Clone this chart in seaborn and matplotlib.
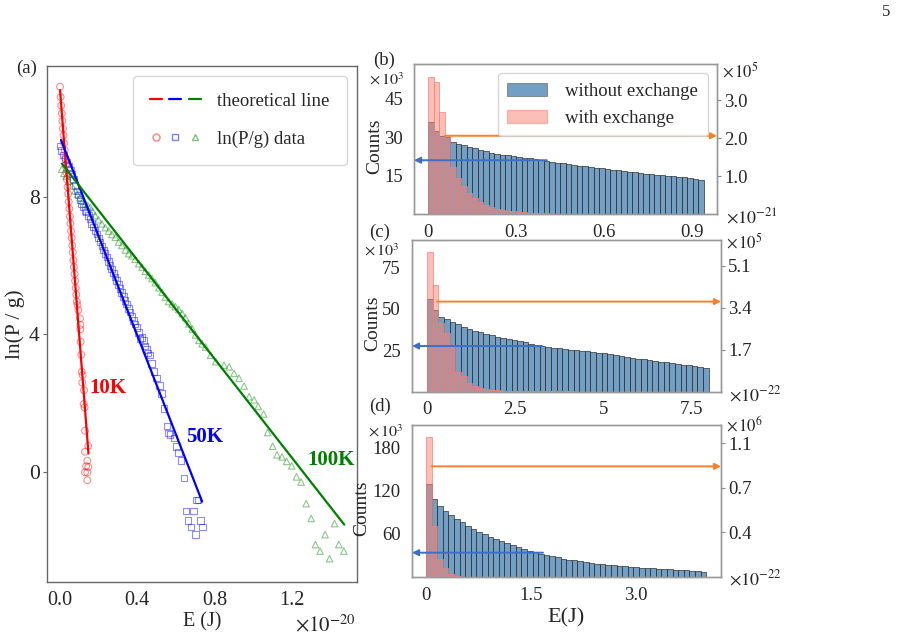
import numpy as np
import pandas as pd
import matplotlib
matplotlib.use("Agg")
import matplotlib.pyplot as plt
import seaborn as sns
from matplotlib.lines import Line2D
from matplotlib.patches import Patch
from matplotlib.legend_handler import HandlerTuple

# ---------------- data: panel (a) ----------------
red_E = [0.000, 0.003, 0.006, 0.009, 0.012, 0.015, 0.018, 0.021, 0.024, 0.027,
         0.030, 0.033, 0.036, 0.039, 0.042, 0.045, 0.048, 0.051, 0.054, 0.057,
         0.060, 0.063, 0.066, 0.069, 0.072, 0.075, 0.078, 0.081, 0.084, 0.087,
         0.090, 0.095, 0.103, 0.105, 0.105, 0.107, 0.110, 0.112, 0.117, 0.115,
         0.124, 0.122, 0.127, 0.129, 0.129, 0.146, 0.141, 0.135, 0.146, 0.129,
         0.141, 0.141]
red_ln = [11.20, 10.90, 10.65, 10.42, 10.20, 9.98, 9.78, 9.55, 9.35, 9.12,
          8.92, 8.70, 8.50, 8.28, 8.08, 7.85, 7.65, 7.42, 7.22, 7.00,
          6.80, 6.58, 6.38, 6.15, 5.95, 5.75, 5.55, 5.35, 5.15, 4.95,
          4.85, 4.70, 4.46, 4.27, 4.14, 3.78, 3.40, 2.91, 2.81, 2.59,
          2.37, 1.97, 1.87, 1.19, 0.58, 0.75, 0.32, 0.16, 0.14, -0.02,
          -0.02, -0.25]

blue_E = [0.000, 0.008, 0.017, 0.026, 0.035, 0.044, 0.053, 0.061, 0.070, 0.078,
          0.087, 0.095, 0.104, 0.112, 0.121, 0.130, 0.138, 0.147, 0.155, 0.164,
          0.173, 0.181, 0.190, 0.199, 0.207, 0.216, 0.225, 0.233, 0.242, 0.250,
          0.259, 0.267, 0.276, 0.284, 0.293, 0.302, 0.310, 0.319, 0.327, 0.336,
          0.345, 0.353, 0.362, 0.371, 0.379, 0.388, 0.397, 0.405, 0.414, 0.423,
          0.431, 0.440, 0.448, 0.456, 0.465, 0.474, 0.487, 0.500, 0.514, 0.526,
          0.537, 0.554, 0.562, 0.570, 0.589, 0.603, 0.613, 0.625, 0.641, 0.707,
          0.714, 0.651, 0.689, 0.661, 0.727, 0.677, 0.738, 0.700]
blue_ln = [9.48, 9.35, 9.21, 9.10, 9.00, 8.88, 8.78, 8.66, 8.50, 8.33,
           8.17, 8.05, 7.92, 7.79, 7.70, 7.60, 7.55, 7.45, 7.35, 7.22,
           7.12, 7.02, 6.92, 6.80, 6.68, 6.56, 6.45, 6.35, 6.24, 6.12,
           6.00, 5.90, 5.78, 5.67, 5.56, 5.44, 5.33, 5.22, 5.10, 4.98,
           4.88, 4.75, 4.64, 4.52, 4.40, 4.30, 4.20, 4.05, 3.87, 3.90,
           3.82, 3.65, 3.55, 3.45, 3.40, 3.15, 2.91, 2.72, 2.50, 2.28,
           1.84, 1.33, 1.12, 1.08, 0.98, 0.73, 0.56, 0.33, -0.18, -0.83,
           -0.83, -1.15, -1.15, -1.42, -1.42, -1.61, -1.61, -1.83]

green_E = [0.009, 0.020, 0.032, 0.045, 0.061, 0.078, 0.091, 0.104, 0.117, 0.130,
           0.143, 0.156, 0.169, 0.182, 0.199, 0.216, 0.234, 0.251, 0.268, 0.286,
           0.303, 0.320, 0.338, 0.355, 0.372, 0.389, 0.407, 0.424, 0.441, 0.459,
           0.476, 0.493, 0.511, 0.528, 0.545, 0.562, 0.580, 0.597, 0.614, 0.632,
           0.649, 0.666, 0.684, 0.701, 0.718, 0.735, 0.753, 0.779, 0.805, 0.848,
           0.875, 0.900, 0.926, 0.952, 0.978, 1.004, 1.025, 1.053, 1.074, 1.100,
           1.122, 1.148, 1.172, 1.198, 1.223, 1.247, 1.273, 1.299, 1.420, 1.371,
           1.321, 1.442, 1.345, 1.468, 1.394]
green_ln = [8.80, 8.68, 8.60, 8.45, 8.32, 8.17, 8.07, 7.98, 7.88, 7.80,
            7.75, 7.69, 7.57, 7.45, 7.33, 7.21, 7.10, 7.00, 6.90, 6.82,
            6.68, 6.58, 6.45, 6.34, 6.28, 6.18, 6.05, 5.95, 5.83, 5.72,
            5.62, 5.50, 5.35, 5.22, 5.08, 4.95, 4.88, 4.80, 4.72, 4.60,
            4.48, 4.30, 4.15, 3.98, 3.82, 3.72, 3.63, 3.39, 3.20, 3.10,
            3.05, 2.86, 2.72, 2.49, 2.18, 2.09, 1.90, 1.68, 1.14, 0.74,
            0.49, 0.43, 0.30, 0.17, -0.15, -0.30, -0.93, -1.36, -1.51, -1.83,
            -2.12, -2.12, -2.31, -2.31, -2.53]

theo_E_10K = [0.000, 0.147]
theo_ln_10K = [11.10, 0.53]
theo_E_50K = [0.005, 0.735]
theo_ln_50K = [9.65, -0.87]
theo_E_100K = [0.010, 1.470]
theo_ln_100K = [8.96, -1.54]

# ---------------- data: panels (b)-(d), 50 bins each ----------------
# without exchange (left axis, x10^3 counts)
b_without = [35.8, 32.6, 30.6, 30.0, 28.0, 27.3, 26.8, 26.3, 25.6, 25.0,
             24.5, 24.0, 23.6, 23.2, 22.9, 22.6, 22.3, 22.0, 21.7, 21.4,
             21.1, 20.7, 20.4, 20.1, 19.8, 19.5, 19.2, 18.9, 18.6, 18.4,
             18.1, 17.8, 17.5, 17.3, 17.0, 16.8, 16.5, 16.3, 16.0, 15.8,
             15.6, 15.4, 15.1, 14.9, 14.7, 14.5, 14.3, 14.0, 13.7, 13.4]
c_without = [55.7, 49.1, 45.1, 43.7, 42.1, 40.5, 38.7, 37.7, 36.6, 35.7,
             34.8, 33.9, 33.1, 32.4, 31.7, 31.0, 30.3, 29.6, 28.9, 28.2,
             27.5, 27.0, 26.5, 26.0, 25.6, 25.2, 24.9, 24.6, 24.3, 24.0,
             23.5, 23.0, 22.5, 22.0, 21.4, 20.8, 20.3, 19.8, 19.3, 18.8,
             18.3, 18.0, 17.6, 17.2, 16.7, 16.2, 15.7, 15.2, 14.7, 14.2]
d_without = [129.3, 108.4, 99.1, 92.5, 86.1, 80.5, 76.3, 71.6, 67.0, 63.2,
             59.6, 56.2, 53.0, 50.2, 47.0, 44.2, 41.4, 38.7, 36.5, 34.2,
             32.4, 30.6, 28.9, 27.3, 25.8, 24.4, 23.1, 21.9, 20.8, 19.7,
             18.7, 17.8, 17.0, 16.2, 15.5, 14.9, 14.3, 13.7, 13.1, 12.6,
             12.1, 11.6, 11.1, 10.6, 10.1, 9.6, 9.1, 8.6, 8.0, 7.4]
# with exchange (right axis, x10^5 / x10^5 / x10^6 counts)
b_with = [3.61, 3.47, 2.69, 2.07, 1.24, 0.95, 0.73, 0.55, 0.43, 0.31,
          0.25, 0.19, 0.14, 0.115, 0.088, 0.070, 0.055, 0.045, 0.035, 0.027,
          0.021, 0.017, 0.013, 0.010, 0.008, 0.006, 0.005, 0.004, 0.003, 0.0025,
          0.002, 0.0015, 0.001, 0.001, 0.0008, 0.0006, 0.0005, 0.0004, 0.0003, 0.0002,
          0.0002, 0.0001, 0.0001, 0.0001, 0.0, 0.0, 0.0, 0.0, 0.0, 0.0]
c_with = [5.65, 4.33, 2.80, 2.36, 1.85, 0.81, 0.61, 0.34, 0.23, 0.16,
          0.108, 0.067, 0.047, 0.030, 0.020, 0.013, 0.008, 0.005, 0.003, 0.002,
          0.001, 0.001, 0.0005, 0.0003, 0.0002, 0.0001, 0.0, 0.0, 0.0, 0.0,
          0.0, 0.0, 0.0, 0.0, 0.0, 0.0, 0.0, 0.0, 0.0, 0.0,
          0.0, 0.0, 0.0, 0.0, 0.0, 0.0, 0.0, 0.0, 0.0, 0.0]
d_with = [1.150, 0.419, 0.146, 0.071, 0.025, 0.008, 0.0035, 0.0018, 0.0009, 0.0004,
          0.0002, 0.0001, 0.0, 0.0, 0.0, 0.0, 0.0, 0.0, 0.0, 0.0,
          0.0, 0.0, 0.0, 0.0, 0.0, 0.0, 0.0, 0.0, 0.0, 0.0,
          0.0, 0.0, 0.0, 0.0, 0.0, 0.0, 0.0, 0.0, 0.0, 0.0,
          0.0, 0.0, 0.0, 0.0, 0.0, 0.0, 0.0, 0.0, 0.0, 0.0]

b_xticks = [0, 0.3, 0.6, 0.9]
b_xticklabels = ["0", "0.3", "0.6", "0.9"]
c_xticks = [0, 2.5, 5, 7.5]
c_xticklabels = ["0", "2.5", "5", "7.5"]
d_xticks = [0, 1.5, 3.0]
d_xticklabels = ["0", "1.5", "3.0"]
b_lyticks = [15, 30, 45]
c_lyticks = [25, 50, 75]
d_lyticks = [60, 120, 180]
b_ryticks = [1.0, 2.0, 3.0]
b_ryticklabels = ["1.0", "2.0", "3.0"]
c_ryticks = [1.7, 3.4, 5.1]
c_ryticklabels = ["1.7", "3.4", "5.1"]
d_ryticks = [0.367, 0.733, 1.1]
d_ryticklabels = ["0.4", "0.7", "1.1"]

# ---------------- style ----------------
sns.set_theme(style="white")
plt.rcParams["font.family"] = ["Liberation Serif", "DejaVu Serif"]
plt.rcParams["mathtext.fontset"] = "stix"

W, H = 910, 638
fig = plt.figure(figsize=(W / 100, H / 100), dpi=100)


def box(l, t, r, b):
    return [l / W, 1 - b / H, (r - l) / W, (b - t) / H]


def ftext(x, y, s, **kw):
    fig.text(x / W, 1 - y / H, s, **kw)


BLUE = "#2b6ea8"
SALMON = "salmon"
ORANGE_ARROW = "#f5822a"
BLUE_ARROW = "#3c70c8"

# ---------------- panel (a) ----------------
axA = fig.add_axes(box(46.7, 65.7, 357, 581.7))
sns.lineplot(x=theo_E_10K, y=theo_ln_10K, ax=axA, color="red", lw=1.6)
sns.lineplot(x=theo_E_50K, y=theo_ln_50K, ax=axA, color="blue", lw=1.6)
sns.lineplot(x=theo_E_100K, y=theo_ln_100K, ax=axA, color="green", lw=1.6)
sns.scatterplot(x=red_E, y=red_ln, ax=axA, marker="o", s=24,
                facecolor="none", edgecolor="red", linewidth=0.8, alpha=0.45, legend=False)
sns.scatterplot(x=blue_E, y=blue_ln, ax=axA, marker="s", s=22,
                facecolor="none", edgecolor="blue", linewidth=0.8, alpha=0.45, legend=False)
sns.scatterplot(x=green_E, y=green_ln, ax=axA, marker="^", s=22,
                facecolor="none", edgecolor="green", linewidth=0.8, alpha=0.45, legend=False)
axA.set_xlim(-0.069, 1.536)
axA.set_ylim(-3.2, 11.81)
axA.set_xticks([0.0, 0.4, 0.8, 1.2])
axA.set_xticklabels(["0.0", "0.4", "0.8", "1.2"])
axA.set_yticks([0, 4, 8])
axA.tick_params(axis="x", labelsize=14.5, bottom=False, pad=1)
axA.tick_params(axis="y", labelsize=15.5, left=True, length=3, width=0.8, color="#666666", pad=2)
axA.set_xlabel("E (J)", fontsize=14.5, labelpad=1)
axA.set_ylabel("ln(P / g)", fontsize=15.5, labelpad=3)
for sp in axA.spines.values():
    sp.set_color("#666666")
    sp.set_linewidth(1.0)

axA.text(0.150, 2.43, "10K", color="red", fontsize=15, fontweight="bold", va="center")
axA.text(0.650, 1.00, "50K", color="blue", fontsize=15, fontweight="bold", va="center")
axA.text(1.280, 0.35, "100K", color="green", fontsize=15, fontweight="bold", va="center")

line_h = (Line2D([], [], color="red", lw=1.6), Line2D([], [], color="blue", lw=1.6),
          Line2D([], [], color="green", lw=1.6))
mark_h = (Line2D([], [], ls="", marker="o", ms=5, mfc="none", mec="red", alpha=0.5),
          Line2D([], [], ls="", marker="s", ms=5, mfc="none", mec="blue", alpha=0.5),
          Line2D([], [], ls="", marker="^", ms=5, mfc="none", mec="green", alpha=0.5))
legA = axA.legend([line_h, mark_h], ["theoretical line", "ln(P/g) data"],
                  handler_map={tuple: HandlerTuple(ndivide=None, pad=0.4)},
                  handlelength=2.7, loc="upper right", fontsize=13.5,
                  labelspacing=1.1, borderpad=0.9, handletextpad=0.9,
                  frameon=True, fancybox=True, borderaxespad=0.55)
legA.get_frame().set_edgecolor("#cccccc")

# ---------------- panels (b)-(d) ----------------
def hist_panel(rect, xmax_bins, without, with_, xlim, xticks, xtl, lylim, lyt,
               rylim, ryt, rytl, blue_arrow, orange_arrow, label_x, legend=False):
    ax = fig.add_axes(rect)
    nb = len(without)
    width = xmax_bins / nb
    centers = [width * (i + 0.5) for i in range(nb)]
    df1 = pd.DataFrame({"E": centers, "n": without})
    sns.histplot(data=df1, x="E", weights="n", binwidth=width, binrange=(0, xmax_bins),
                 ax=ax, color=BLUE, alpha=0.66, edgecolor="#303030", linewidth=0.5,
                 legend=False)
    ax2 = ax.twinx()
    df2 = pd.DataFrame({"E": centers, "n": with_})
    sns.histplot(data=df2, x="E", weights="n", binwidth=width, binrange=(0, xmax_bins),
                 ax=ax2, color=SALMON, alpha=0.5, edgecolor=SALMON, linewidth=0.5,
                 legend=False)
    ax.set_xlim(*xlim)
    ax2.set_xlim(*xlim)
    ax.set_ylim(*lylim)
    ax2.set_ylim(*rylim)
    ax.set_xticks(xticks)
    ax.set_xticklabels(xtl)
    ax.set_yticks(lyt)
    ax2.set_yticks(ryt)
    ax2.set_yticklabels(rytl)
    ax.set_xlabel("")
    ax.set_ylabel("Counts", fontsize=14, labelpad=1)
    ax.yaxis.set_label_coords(label_x, 0.45)
    ax2.set_ylabel("")
    ax.tick_params(axis="x", labelsize=13.5, bottom=False, pad=1)
    ax.tick_params(axis="y", labelsize=13.5, left=False, pad=2)
    ax2.tick_params(axis="y", labelsize=13.5, right=True, length=3, width=0.8,
                    color="#888888", pad=2)
    for a in (ax, ax2):
        for sp in a.spines.values():
            sp.set_color("#999999")
            sp.set_linewidth(1.0)
    bx, by = blue_arrow
    ax2.annotate("", xy=(xlim[0], by), xycoords=ax.transData,
                 xytext=(bx, by), textcoords=ax.transData,
                 arrowprops=dict(arrowstyle="-|>", color=BLUE_ARROW, lw=1.4,
                                 mutation_scale=9, shrinkA=0, shrinkB=0))
    ox, oy = orange_arrow
    ax2.annotate("", xy=(xlim[1], oy), xycoords="data",
                 xytext=(ox, oy), textcoords="data",
                 arrowprops=dict(arrowstyle="-|>", color=ORANGE_ARROW, lw=1.4,
                                 mutation_scale=9, shrinkA=0, shrinkB=0))
    if legend:
        hs = [Patch(facecolor=BLUE, alpha=0.66, edgecolor="#555555", lw=0.6),
              Patch(facecolor=SALMON, alpha=0.5, edgecolor=SALMON)]
        lg = ax2.legend(hs, ["without exchange", "with exchange"], loc="upper right",
                        fontsize=13.5, handlelength=2.1, handleheight=0.75,
                        handletextpad=1.0, labelspacing=0.5, borderpad=0.5,
                        frameon=True, fancybox=True, borderaxespad=0.5)
        lg.get_frame().set_edgecolor("#cccccc")
    return ax, ax2


hist_panel(box(414, 64, 717, 214), 0.94, b_without, b_with,
           (-0.048, 0.985), b_xticks, b_xticklabels, (0, 58.6), b_lyticks,
           (0, 3.95), b_ryticks, b_ryticklabels,
           blue_arrow=(0.405, 21.0), orange_arrow=(0.058, 2.06), label_x=-0.10,
           legend=True)
hist_panel(box(412, 240, 721, 391.5), 8.0, c_without, c_with,
           (-0.43, 8.35), c_xticks, c_xticklabels, (0, 91.3), c_lyticks,
           (0, 6.15), c_ryticks, c_ryticklabels,
           blue_arrow=(3.27, 27.4), orange_arrow=(0.28, 3.65), label_x=-0.10)
axD, _ = hist_panel(box(412, 425, 721, 577), 4.0, d_without, d_with,
                    (-0.2, 4.21), d_xticks, d_xticklabels, (0, 212), d_lyticks,
                    (0, 1.25), d_ryticks, d_ryticklabels,
                    blue_arrow=(1.67, 33.9), orange_arrow=(0.08, 0.91), label_x=-0.135)
axD.set_xlabel("E(J)", fontsize=16, labelpad=3)

# ---------------- annotations ----------------
ftext(16, 68, "(a)", fontsize=13.5, va="center", ha="left")
ftext(373, 60, "(b)", fontsize=13.5, va="center", ha="left")
ftext(369, 232, "(c)", fontsize=13.5, va="center", ha="left")
ftext(369, 406, "(d)", fontsize=13.5, va="center", ha="left")

ftext(369, 80, r"$\times\,10^{3}$", fontsize=11.5, va="center", ha="left")
ftext(364, 251, r"$\times\,10^{3}$", fontsize=11.5, va="center", ha="left")
ftext(368, 432, r"$\times\,10^{3}$", fontsize=11.5, va="center", ha="left")

ftext(722, 71, r"$\times\,10^{5}$", fontsize=12, va="center", ha="left")
ftext(726, 242, r"$\times\,10^{5}$", fontsize=12, va="center", ha="left")
ftext(726, 425, r"$\times\,10^{6}$", fontsize=12, va="center", ha="left")

ftext(726, 217, r"$\times10^{-21}$", fontsize=13, va="center", ha="left")
ftext(729, 395, r"$\times10^{-22}$", fontsize=13, va="center", ha="left")
ftext(729, 579, r"$\times10^{-22}$", fontsize=13, va="center", ha="left")
ftext(295, 626, r"$\times10^{-20}$", fontsize=15, va="center", ha="left")

ftext(886, 12, "5", fontsize=12, va="center", ha="center")

fig.savefig("out.png", dpi=100)
